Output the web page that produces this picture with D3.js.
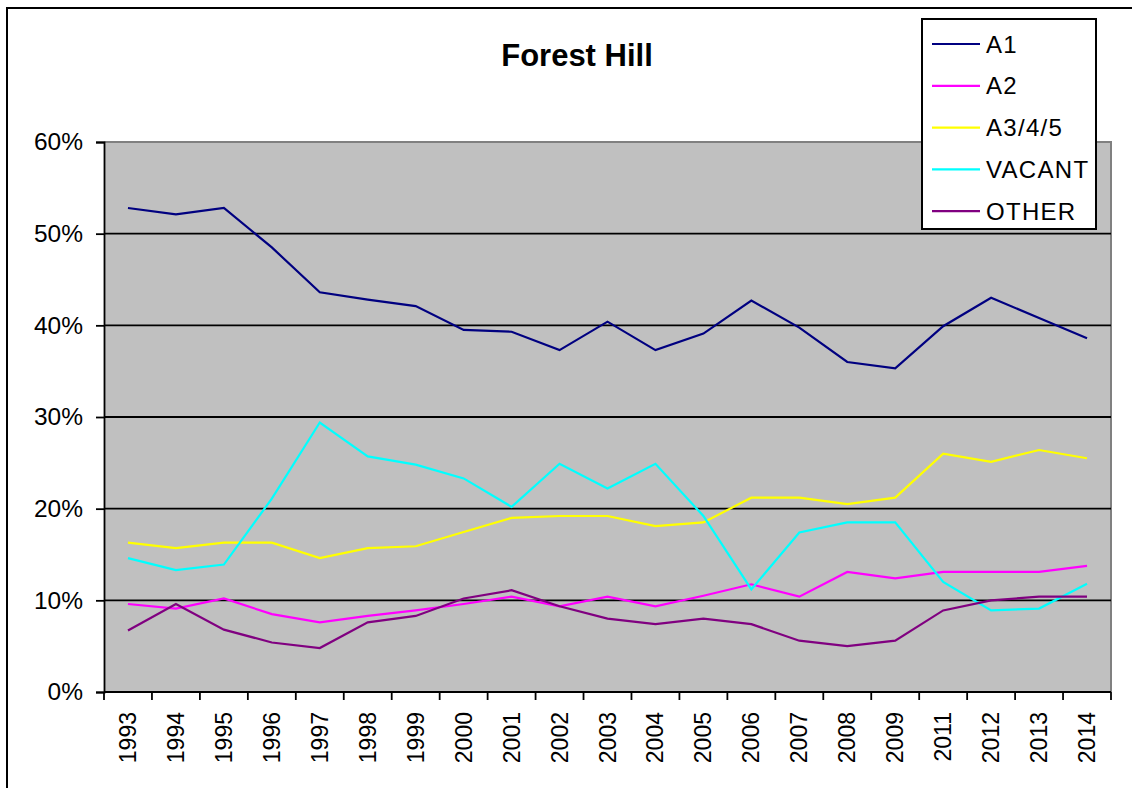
<!DOCTYPE html>
<html>
<head>
<meta charset="utf-8">
<script src="https://cdn.jsdelivr.net/npm/d3@7"></script>
<style>
html, body { margin: 0; padding: 0; background: #fff; }
svg { display: block; font-family: Arial, "Liberation Sans", sans-serif; }
</style>
</head>
<body>
<svg id="chart" width="1132" height="788"></svg>
<script>
const years = ["1993","1994","1995","1996","1997","1998","1999","2000","2001","2002","2003","2004","2005","2006","2007","2008","2009","2011","2012","2013","2014"];
const seriesNames = ["A1", "A2", "A3/4/5", "VACANT", "OTHER"];
const seriesColors = ["#000080", "#ff00ff", "#ffff00", "#00ffff", "#800080"];
const a1 = [52.8, 52.1, 52.8, 48.5, 43.6, 42.8, 42.1, 39.5, 39.3, 37.3, 40.4, 37.3, 39.1, 42.7, 39.75, 36.0, 35.3, 39.9, 43.0, 40.8, 38.6];
const a2 = [9.6, 9.1, 10.2, 8.5, 7.6, 8.3, 8.9, 9.6, 10.4, 9.35, 10.4, 9.35, 10.5, 11.75, 10.4, 13.1, 12.4, 13.1, 13.1, 13.1, 13.75];
const a345 = [16.3, 15.7, 16.3, 16.3, 14.6, 15.7, 15.9, 17.45, 19.0, 19.2, 19.2, 18.1, 18.5, 21.2, 21.2, 20.5, 21.2, 26.0, 25.1, 26.4, 25.5];
const vacant = [14.6, 13.3, 13.9, 21.1, 29.4, 25.7, 24.8, 23.3, 20.2, 24.9, 22.2, 24.9, 19.2, 11.2, 17.4, 18.5, 18.5, 12.0, 8.9, 9.1, 11.8];
const other = [6.7, 9.6, 6.8, 5.4, 4.8, 7.6, 8.3, 10.2, 11.1, 9.35, 8.0, 7.4, 8.0, 7.4, 5.6, 5.0, 5.6, 8.9, 10.0, 10.4, 10.4];
const yTicks = [0, 10, 20, 30, 40, 50, 60];
const title = "Forest Hill";

const seriesValues = [a1, a2, a345, vacant, other];

const svg = d3.select("#chart");

// outer chart border
svg.append("rect").attr("x", 7).attr("y", 8).attr("width", 1200).attr("height", 900)
  .attr("fill", "#fff").attr("stroke", "#000").attr("stroke-width", 2);

const plot = { left: 104, right: 1111, top: 142, bottom: 692 };

const x = d3.scaleBand().domain(years).range([plot.left, plot.right]).padding(0);
const y = d3.scaleLinear().domain([0, 60]).range([plot.bottom, plot.top]);

// plot area background
svg.append("rect").attr("x", plot.left).attr("y", plot.top)
  .attr("width", plot.right - plot.left).attr("height", plot.bottom - plot.top)
  .attr("fill", "#c0c0c0");
// gray border top/right
svg.append("path")
  .attr("d", `M${plot.left},${plot.top}H${plot.right}V${plot.bottom}`)
  .attr("fill", "none").attr("stroke", "#808080").attr("stroke-width", 2);

// gridlines
svg.append("g").selectAll("line").data(yTicks.filter(d => d > 0 && d < 60)).join("line")
  .attr("x1", plot.left).attr("x2", plot.right)
  .attr("y1", d => y(d)).attr("y2", d => y(d))
  .attr("stroke", "#000").attr("stroke-width", 1.8);

// y axis
const yAxis = d3.axisLeft(y).tickValues(yTicks).tickSize(8).tickPadding(13)
  .tickFormat(d => d + "%");
const gy = svg.append("g").attr("transform", `translate(${plot.left},0)`).call(yAxis);
gy.select(".domain").attr("stroke", "#000").attr("stroke-width", 1.8);
gy.selectAll(".tick line").attr("stroke", "#000").attr("stroke-width", 1.8);
gy.selectAll(".tick text").attr("font-size", 24.5).attr("fill", "#000")
  .attr("font-family", "Arial, 'Liberation Sans', sans-serif");

// x axis: ticks at band boundaries
const gx = svg.append("g").attr("transform", `translate(0,${plot.bottom})`);
gx.append("line").attr("x1", plot.left).attr("x2", plot.right).attr("y1", 0).attr("y2", 0)
  .attr("stroke", "#000").attr("stroke-width", 1.8);
const boundaries = years.map(d => x(d)).concat([x(years[years.length - 1]) + x.bandwidth()]);
gx.selectAll("line.tk").data(boundaries).join("line").attr("class", "tk")
  .attr("x1", d => d).attr("x2", d => d).attr("y1", 0).attr("y2", 8)
  .attr("stroke", "#000").attr("stroke-width", 1.8);
gx.selectAll("text").data(years).join("text")
  .attr("transform", d => `translate(${x(d) + x.bandwidth() / 2 + 8},20) rotate(-90)`)
  .attr("text-anchor", "end")
  .attr("font-size", 23).attr("fill", "#000")
  .text(d => d);

// lines
const line = d3.line().x((d, i) => x(years[i]) + x.bandwidth() / 2).y(d => y(d));
seriesValues.forEach((vals, si) => {
  svg.append("path").datum(vals).attr("d", line)
    .attr("fill", "none").attr("stroke", seriesColors[si]).attr("stroke-width", 2.2)
    .attr("stroke-linejoin", "miter");
});

// title
svg.append("text").attr("x", 577).attr("y", 66).attr("text-anchor", "middle")
  .attr("font-size", 31).attr("font-weight", "bold").attr("fill", "#000").text(title);

// legend
const lg = svg.append("g");
lg.append("rect").attr("x", 922).attr("y", 19).attr("width", 174).attr("height", 210)
  .attr("fill", "#fff").attr("stroke", "#000").attr("stroke-width", 2);
seriesNames.forEach((name, i) => {
  const cy = 44 + i * 41.8;
  lg.append("line").attr("x1", 932).attr("x2", 980).attr("y1", cy).attr("y2", cy)
    .attr("stroke", seriesColors[i]).attr("stroke-width", 2.2);
  lg.append("text").attr("x", 986).attr("y", cy).attr("dy", "0.36em")
    .attr("font-size", 24).attr("letter-spacing", 1.3).attr("fill", "#000").text(name);
});
</script>
</body>
</html>
